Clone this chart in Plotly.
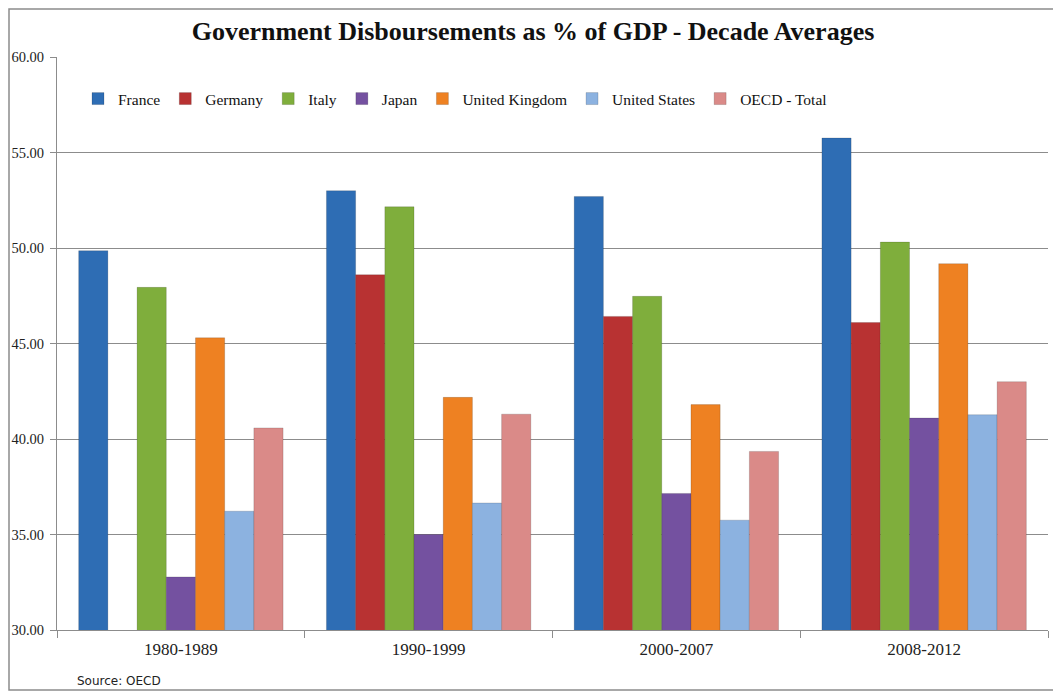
import plotly.graph_objects as go

categories = ["1980-1989", "1990-1999", "2000-2007", "2008-2012"]
series_names = ["France", "Germany", "Italy", "Japan", "United Kingdom", "United States", "OECD - Total"]
france = [49.86, 53.0, 52.7, 55.76]
germany = [None, 48.6, 46.42, 46.1]
italy = [47.94, 52.16, 47.47, 50.31]
japan = [32.78, 35.0, 37.15, 41.1]
uk = [45.3, 42.18, 41.8, 49.18]
us = [36.22, 36.65, 35.75, 41.27]
oecd = [40.58, 41.3, 39.35, 43.0]
y_ticks = [30, 35, 40, 45, 50, 55, 60]

series_values = [france, germany, italy, japan, uk, us, oecd]
colors = ["#2E6DB4", "#B83232", "#7FAE3C", "#7451A0", "#EE8122", "#8CB2E0", "#DA8A88"]

# page body has an 8px default margin; size the figure to fit the window
OFF = 8
W, H = 1061 - OFF, 693 - OFF
ml, mr, mt, mb = 57 - OFF, 13, 57 - OFF, 63
pw, ph = W - ml - mr, H - mt - mb


def px_x(sx):
    return (sx - OFF - ml) / pw


def px_y(sy):
    return (H - mb - (sy - OFF)) / ph


fig = go.Figure()
for name, vals, col in zip(series_names, series_values, colors):
    fig.add_trace(go.Bar(
        x=categories, y=vals, name=name,
        marker=dict(color=col, line=dict(width=0.6, color="rgba(0,0,0,0.25)")),
    ))

serif = "Liberation Serif"
fig.update_layout(
    width=W, height=H,
    margin=dict(l=ml, r=mr, t=mt, b=mb, autoexpand=False),
    paper_bgcolor="white", plot_bgcolor="white",
    barmode="group", bargap=0.175, bargroupgap=0,
    title=dict(text="<b>Government Disboursements as % of GDP - Decade Averages</b>",
               x=(533 - OFF) / W, xanchor="center", y=1 - (31 - OFF) / H, yanchor="middle",
               font=dict(family=serif, size=26, color="#111111")),
    legend=dict(orientation="h", x=px_x(78), xanchor="left",
                y=px_y(99), yanchor="middle",
                font=dict(family=serif, size=15.5, color="#111111"),
                itemwidth=30, bgcolor="rgba(0,0,0,0)", traceorder="normal",
                tracegroupgap=0),
    showlegend=True,
    font=dict(family=serif, color="#111111"),
)
fig.update_yaxes(range=[30, 60], tickvals=y_ticks, tickformat=".2f",
                 showgrid=True, gridcolor="#8C8C8C", gridwidth=1,
                 showline=True, linecolor="#8C8C8C", linewidth=1,
                 ticks="outside", ticklen=6, tickcolor="#8C8C8C",
                 ticklabelstandoff=3, automargin=False,
                 tickfont=dict(family=serif, size=14.5, color="#222222"),
                 zeroline=False, fixedrange=True)
fig.update_xaxes(showline=True, linecolor="#8C8C8C", linewidth=1,
                 ticks="outside", ticklen=7, tickcolor="#8C8C8C",
                 tickson="boundaries", showgrid=False, ticklabelstandoff=4,
                 automargin=False,
                 tickfont=dict(family=serif, size=17, color="#222222"))

# outer chart border
fig.add_shape(type="rect", xref="paper", yref="paper",
              x0=px_x(OFF + 1), x1=px_x(1057),
              y0=px_y(690), y1=px_y(OFF + 1),
              line=dict(color="#8C8C8C", width=1.5), layer="below")

fig.add_annotation(text="Source: OECD", xref="paper", yref="paper",
                   x=px_x(75), y=px_y(681),
                   xanchor="left", yanchor="middle", showarrow=False,
                   font=dict(family="DejaVu Sans", size=12, color="#222222"))

fig.write_html("out.html")
